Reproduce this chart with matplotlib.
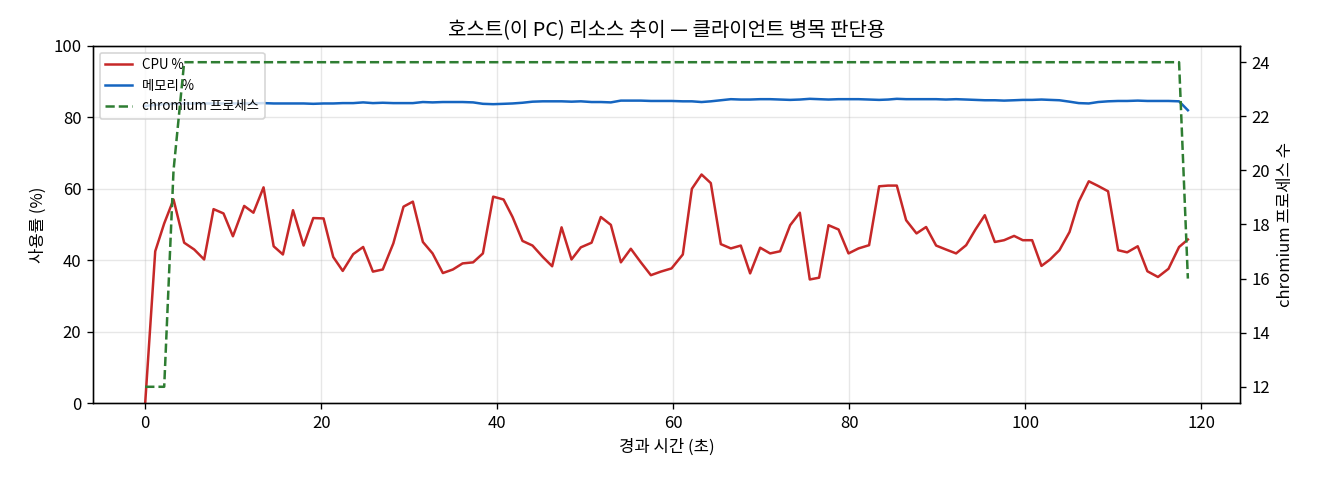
import matplotlib
matplotlib.use("Agg")
import matplotlib.pyplot as plt

plt.rcParams["font.family"] = ["Noto Sans CJK KR", "DejaVu Sans"]
plt.rcParams["axes.unicode_minus"] = False

# 경과 시간 (초)
elapsed = [
    0, 1.14, 2.16, 3.22, 4.43, 5.57, 6.7, 7.77, 8.9, 9.97,
    11.25, 12.3, 13.45, 14.6, 15.65, 16.8, 18.0, 19.1, 20.27, 21.37,
    22.45, 23.64, 24.77, 25.88, 27.0, 28.2, 29.36, 30.42, 31.56, 32.66,
    33.83, 34.97, 36.07, 37.27, 38.38, 39.55, 40.73, 41.75, 42.88, 44.02,
    45.19, 46.25, 47.32, 48.45, 49.51, 50.73, 51.78, 52.92, 54.06, 55.19,
    56.33, 57.47, 58.6, 59.82, 61.1, 62.13, 63.23, 64.28, 65.42, 66.56,
    67.69, 68.75, 69.89, 71.02, 72.16, 73.3, 74.4, 75.53, 76.59, 77.66,
    78.8, 79.93, 81.07, 82.27, 83.41, 84.43, 85.42, 86.48, 87.66, 88.75,
    89.89, 91.0, 92.16, 93.3, 94.36, 95.42, 96.56, 97.61, 98.75, 99.74,
    100.8, 101.86, 102.84, 103.9, 105.05, 106.1, 107.24, 108.3, 109.43, 110.57,
    111.6, 112.8, 113.9, 115.1, 116.3, 117.5, 118.5,
]

cpu_pct = [
    0, 42.5, 50.3, 57.0, 44.9, 43.0, 40.2, 54.3, 53.1, 46.7,
    55.2, 53.3, 60.4, 43.9, 41.6, 54.0, 44.1, 51.8, 51.7, 40.9,
    37.0, 41.7, 43.7, 36.8, 37.4, 44.7, 55.0, 56.4, 45.1, 41.9,
    36.4, 37.4, 39.1, 39.4, 41.9, 57.8, 57.0, 52.1, 45.4, 44.1,
    40.9, 38.3, 49.2, 40.2, 43.6, 44.9, 52.1, 49.9, 39.4, 43.2,
    39.4, 35.8, 36.8, 37.7, 41.6, 60.0, 64.0, 61.6, 44.5, 43.3,
    44.1, 36.3, 43.5, 41.9, 42.5, 49.8, 53.3, 34.6, 35.1, 49.8,
    48.6, 41.9, 43.3, 44.2, 60.7, 60.9, 60.9, 51.2, 47.5, 49.3,
    44.1, 43.0, 41.9, 44.2, 48.6, 52.6, 45.1, 45.6, 46.8, 45.6,
    45.6, 38.4, 40.2, 42.8, 47.9, 56.4, 62.1, 60.8, 59.3, 42.8,
    42.2, 43.9, 36.9, 35.3, 37.6, 43.7, 45.8,
]

mem_pct = [
    83.2, 83.5, 83.7, 83.8, 83.9, 83.9, 83.9, 83.9, 83.9, 83.9,
    83.9, 83.9, 84.0, 83.9, 83.9, 83.9, 83.9, 83.8, 83.9, 83.9,
    84.0, 84.0, 84.2, 84.0, 84.1, 84.0, 84.0, 84.0, 84.3, 84.2,
    84.3, 84.3, 84.3, 84.2, 83.8, 83.7, 83.8, 83.9, 84.1, 84.4,
    84.5, 84.5, 84.5, 84.4, 84.5, 84.3, 84.3, 84.2, 84.7, 84.7,
    84.7, 84.6, 84.6, 84.6, 84.5, 84.5, 84.3, 84.5, 84.8, 85.1,
    85.0, 85.0, 85.1, 85.1, 85.0, 84.9, 85.0, 85.2, 85.1, 85.0,
    85.1, 85.1, 85.1, 85.0, 84.9, 85.0, 85.2, 85.1, 85.1, 85.1,
    85.1, 85.0, 85.1, 85.0, 84.9, 84.8, 84.8, 84.7, 84.8, 84.9,
    84.9, 85.0, 84.9, 84.8, 84.4, 84.0, 83.9, 84.3, 84.5, 84.6,
    84.6, 84.7, 84.6, 84.6, 84.6, 84.5, 82.0,
]

chromium_procs = [12, 12, 12, 20] + [24] * 102 + [16]

C_CPU = "#c62828"
C_MEM = "#1565c0"
C_CHR = "#2e7d32"

fig, ax = plt.subplots(figsize=(11, 4), dpi=120)
fig.subplots_adjust(left=0.0705, right=0.9394, bottom=0.1604, top=0.9042)

l1, = ax.plot(elapsed, cpu_pct, color=C_CPU, lw=1.5, label="CPU %")
l2, = ax.plot(elapsed, mem_pct, color=C_MEM, lw=1.5, label="메모리 %")
ax.set_ylim(0, 100)
ax.set_xlabel("경과 시간 (초)")
ax.set_ylabel("사용률 (%)")
ax.grid(True, alpha=0.3)
ax.set_title("호스트(이 PC) 리소스 추이 — 클라이언트 병목 판단용")

ax2 = ax.twinx()
l3, = ax2.plot(elapsed, chromium_procs, color=C_CHR, lw=1.5, linestyle="--",
               label="chromium 프로세스")
ax2.set_ylabel("chromium 프로세스 수")

ax.legend(handles=[l1, l2, l3], loc="upper left", fontsize=8)

fig.savefig("out.png", dpi=120)
